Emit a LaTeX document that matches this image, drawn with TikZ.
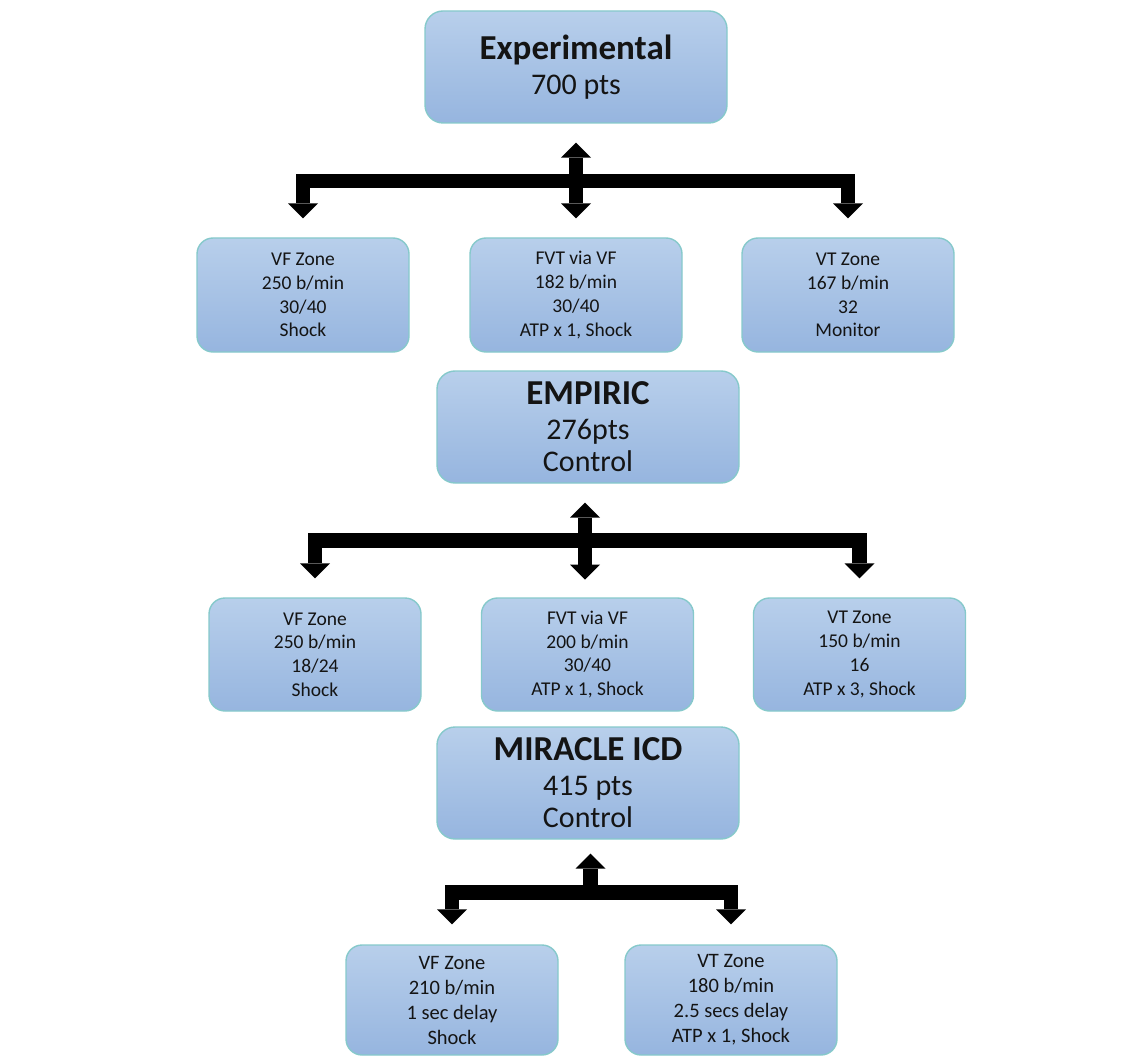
\documentclass[tikz,border=0pt]{standalone}
\usepackage{fontspec}
\setmainfont{Carlito}
\usetikzlibrary{arrows.meta,calc}
\definecolor{boxtop}{HTML}{B8CFEB}
\definecolor{boxbot}{HTML}{96B5DF}
\definecolor{boxline}{HTML}{86C9CB}
\tikzset{
  box/.style={rounded corners=16pt, draw=boxline, line width=1.4pt,
    top color=boxtop, bottom color=boxbot, align=center, inner sep=0pt,
    text=black!92},
  smallbox/.style={box, minimum width=212pt, minimum height=114pt,
    font=\fontsize{19.5}{23.7}\selectfont},
  bigbox/.style={box, rounded corners=18pt, minimum width=302pt, minimum height=112pt,
    font=\fontsize{30}{32}\selectfont},
  fat/.style={line width=14.5pt, line join=miter, black},
  dtip/.tip={Triangle[width=30pt,length=15pt,line width=0pt]}
}
\newcommand{\headline}[1]{{\fontsize{35}{32}\selectfont\bfseries #1}}
\begin{document}
\begin{tikzpicture}[x=1pt,y=-1pt]
\useasboundingbox (0,0) rectangle (1145,1056);

% level 1
\node[bigbox] (exp) at (576,67) {\headline{Experimental}\\[3pt]700 pts};
\node[smallbox] (vf1) at (303,295) {VF Zone\\250 b/min\\30/40\\Shock};
\node[smallbox] (fvt1) at (576,295) {FVT via VF\\182 b/min\\30/40\\ATP x 1, Shock};
\node[smallbox] (vt1) at (848,295) {VT Zone\\167 b/min\\32\\Monitor};

% level 2
\node[bigbox] (emp) at (588,427) {\headline{EMPIRIC}\\[3pt]276pts\\Control};
\node[smallbox, minimum height=113pt] (vf2) at (315,654.5) {VF Zone\\250 b/min\\18/24\\Shock};
\node[smallbox, minimum height=113pt] (fvt2) at (587.5,654.5) {FVT via VF\\200 b/min\\30/40\\ATP x 1, Shock};
\node[smallbox, minimum height=113pt] (vt2) at (859.5,654.5) {VT Zone\\150 b/min\\16\\ATP x 3, Shock};

% level 3
\node[bigbox] (mir) at (588,783) {\headline{MIRACLE ICD}\\[3pt]415 pts\\Control};
\node[smallbox, minimum height=110pt, font=\fontsize{20.5}{25}\selectfont] (vf3) at (452,1000) {VF Zone\\210 b/min\\1 sec delay\\Shock};
\node[smallbox, minimum height=110pt, font=\fontsize{20.5}{25}\selectfont] (vt3) at (731,1000) {VT Zone\\180 b/min\\2.5 secs delay\\ATP x 1, Shock};

% arrows group 1
\draw[fat, dtip-dtip] ($(exp.south)+(0,19)$) -- ($(fvt1.north)+(0,-19)$);
\draw[fat, -dtip] ($(exp.south)+(0,57.5)$) -| ($(vf1.north)+(0,-19)$);
\draw[fat, -dtip] ($(exp.south)+(0,57.5)$) -| ($(vt1.north)+(0,-19)$);

% arrows group 2
\draw[fat, dtip-dtip] ($(emp.south)+(-3,19)$) -- ($(emp.south)+(-3,96)$);
\draw[fat, -dtip] ($(emp.south)+(-3,57)$) -| ($(vf2.north)+(0,-19)$);
\draw[fat, -dtip] ($(emp.south)+(-3,57)$) -| ($(vt2.north)+(0,-19)$);

% arrows group 3
\draw[fat, -dtip] ($(mir.south)+(2.5,53)$) -- ($(mir.south)+(2.5,14)$);
\draw[fat, -dtip] ($(mir.south)+(2.5,53)$) -| ($(vf3.north)+(0,-20)$);
\draw[fat, -dtip] ($(mir.south)+(2.5,53)$) -| ($(vt3.north)+(0,-20)$);
\end{tikzpicture}
\end{document}
